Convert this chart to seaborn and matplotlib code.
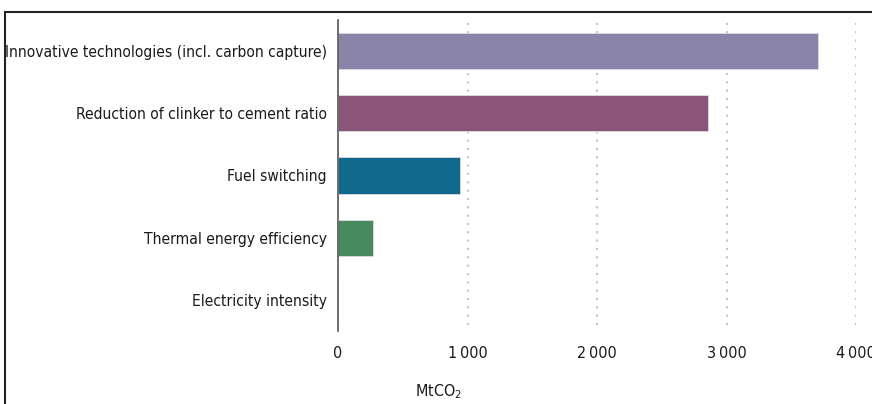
import matplotlib
matplotlib.use('Agg')
import matplotlib.pyplot as plt
import seaborn as sns
import pandas as pd
import numpy as np
from matplotlib.patches import Rectangle

# Data
categories = ['Innovative technologies (incl. carbon capture)',
              'Reduction of clinker to cement ratio',
              'Fuel switching',
              'Thermal energy efficiency',
              'Electricity intensity']
values = [3710, 2860, 945, 270, 0]
colors = ['#8B84AA', '#8A5578', '#0F6A8E', '#468A5D', '#888888']
x_ticks = [0, 1000, 2000, 3000, 4000]
x_tick_labels = ['0', '1\u2009000', '2\u2009000', '3\u2009000', '4\u2009000']

df = pd.DataFrame({'category': categories, 'value': values})

sns.set_style('white')
plt.rcParams['font.family'] = ['DejaVu Sans']
plt.rcParams['font.stretch'] = 'condensed'

fig = plt.figure(figsize=(8.72, 4.04), dpi=100)
ax = fig.add_axes([338 / 872, 1 - 331 / 404, (856 - 338) / 872, (331 - 20) / 404])

sns.barplot(data=df, x='value', y='category', hue='category', palette=colors,
            saturation=1, legend=False, width=0.58, ax=ax,
            edgecolor='#DDDDDD', linewidth=0.6)

ax.set_xlim(0, 4000)
ax.set_ylim(4.5, -0.5)
ax.set_xticks(x_ticks)
ax.set_xticklabels(x_tick_labels, fontsize=11.5, color='#1a1a1a')
ax.tick_params(axis='x', length=0, pad=11)
ax.tick_params(axis='y', which='major', length=0, labelsize=11.2, labelcolor='#1a1a1a', pad=8)
ax.set_yticks(np.arange(-0.5, 5, 1), minor=True)
ax.tick_params(axis='y', which='minor', length=5, width=1.2, color='#555555')

# dotted vertical gridlines
for x in x_ticks[1:]:
    ax.axvline(x, ymin=0.02, ymax=1, color='#C4C4C4', linestyle=(0, (1, 3)),
               linewidth=1.5, zorder=0)

for side in ['top', 'right', 'bottom']:
    ax.spines[side].set_visible(False)
ax.spines['left'].set_color('#555555')
ax.spines['left'].set_linewidth(1.2)

ax.set_ylabel('')
ax.set_xlabel('MtCO$_2$', fontsize=11.5, color='#1a1a1a')
ax.xaxis.set_label_coords((438 - 338) / (856 - 338), -0.165)

# outer frame of the figure panel
fig.patches.append(Rectangle((5 / 872, -0.1), 1.2, 1 - 12 / 404 + 0.1,
                             transform=fig.transFigure, fill=False,
                             edgecolor='#222222', linewidth=1.5))

fig.savefig('out.png', dpi=100)
plt.close(fig)
